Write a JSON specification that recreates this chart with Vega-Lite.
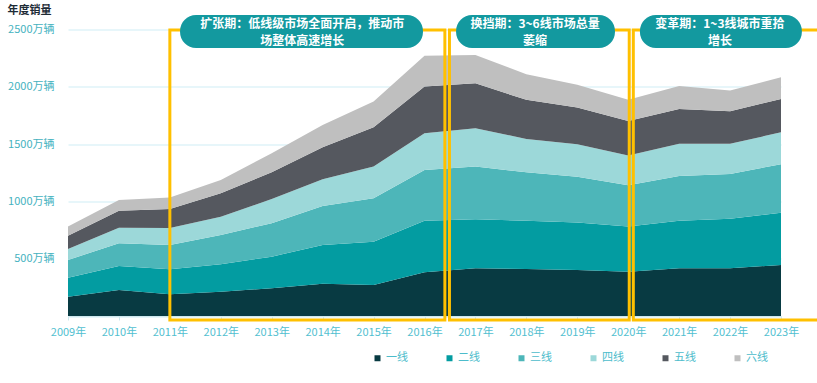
{
  "$schema": "https://vega.github.io/schema/vega-lite/v6.json",
  "width": 713,
  "height": 286.5,
  "autosize": {"type": "none"},
  "padding": {"left": 68, "top": 29.5, "right": 36, "bottom": 67},
  "background": "white",
  "config": {
    "font": "Noto Sans CJK SC",
    "view": {"stroke": null}
  },
  "datasets": {
    "sales": [
      {"year": 2009, "一线": 168, "二线": 166, "三线": 155, "四线": 96, "五线": 116, "六线": 79},
      {"year": 2010, "一线": 227, "二线": 209, "三线": 199, "四线": 136, "五线": 148, "六线": 94},
      {"year": 2011, "一线": 189, "二线": 218, "三线": 213, "四线": 148, "五线": 166, "六线": 99},
      {"year": 2012, "一线": 212, "二线": 239, "三线": 256, "四线": 160, "五线": 204, "六线": 116},
      {"year": 2013, "一线": 242, "二线": 276, "三线": 292, "四线": 210, "五线": 235, "六线": 165},
      {"year": 2014, "一线": 282, "二线": 338, "三线": 340, "四线": 233, "五线": 279, "六线": 195},
      {"year": 2015, "一线": 271, "二线": 378, "三线": 378, "四线": 277, "五线": 343, "六线": 224},
      {"year": 2016, "一线": 381, "二线": 451, "三线": 443, "四线": 320, "五线": 407, "六线": 270},
      {"year": 2017, "一线": 416, "二线": 428, "三线": 460, "四线": 334, "五线": 392, "六线": 248},
      {"year": 2018, "一线": 410, "二线": 422, "三线": 422, "四线": 291, "五线": 341, "六线": 224},
      {"year": 2019, "一线": 402, "二线": 413, "三线": 401, "四线": 283, "五线": 320, "六线": 198},
      {"year": 2020, "一线": 387, "二线": 393, "三线": 361, "四线": 259, "五线": 302, "六线": 184},
      {"year": 2021, "一线": 416, "二线": 416, "三线": 390, "四线": 280, "五线": 305, "六线": 201},
      {"year": 2022, "一线": 416, "二线": 433, "三线": 391, "四线": 262, "五线": 285, "六线": 180},
      {"year": 2023, "一线": 445, "二线": 457, "三线": 422, "四线": 279, "五线": 291, "六线": 190}
    ],
    "boxes": [
      {"x0": 2011.0, "x1": 2016.40, "y0": -35, "y1": 2496},
      {"x0": 2016.49, "x1": 2020.02, "y0": -35, "y1": 2496},
      {"x0": 2020.10, "x1": 2023.85, "y0": -35, "y1": 2496}
    ],
    "badges": [
      {"x0": 2011.20, "x1": 2015.97, "y0": 2339, "y1": 2627},
      {"x0": 2016.62, "x1": 2019.74, "y0": 2339, "y1": 2627},
      {"x0": 2020.23, "x1": 2023.41, "y0": 2339, "y1": 2627}
    ],
    "badgeText": [
      {"xc": 2013.60, "yc": 2552, "label": "扩张期：低线级市场全面开启，推动市"},
      {"xc": 2013.60, "yc": 2402, "label": "场整体高速增长"},
      {"xc": 2018.17, "yc": 2552, "label": "换挡期：3~6线市场总量"},
      {"xc": 2018.17, "yc": 2402, "label": "萎缩"},
      {"xc": 2021.80, "yc": 2552, "label": "变革期：1~3线城市重拾"},
      {"xc": 2021.80, "yc": 2402, "label": "增长"}
    ]
  },
  "layer": [
    {
      "data": {"name": "sales"},
      "transform": [
        {"fold": ["一线", "二线", "三线", "四线", "五线", "六线"], "as": ["tier", "value"]},
        {"calculate": "indexof(['一线','二线','三线','四线','五线','六线'], datum.tier)", "as": "tierOrder"}
      ],
      "mark": {"type": "area", "interpolate": "linear"},
      "encoding": {
        "x": {
          "field": "year", "type": "quantitative",
          "scale": {"domain": [2009, 2023], "nice": false, "zero": false},
          "axis": {
            "title": null,
            "values": [2009, 2010, 2011, 2012, 2013, 2014, 2015, 2016, 2017, 2018, 2019, 2020, 2021, 2022, 2023],
            "labelExpr": "datum.value + '年'",
            "labelColor": "#52c0d0",
            "labelFontSize": 11,
            "labelPadding": 6,
            "labelFlush": false,
            "labelOverlap": false,
            "grid": false,
            "domainColor": "#cfe8ee",
            "tickColor": "#cfe8ee",
            "tickSize": 4
          }
        },
        "y": {
          "field": "value", "type": "quantitative", "stack": "zero",
          "scale": {"domain": [0, 2500], "nice": false},
          "axis": {
            "title": "年度销量",
            "titleAngle": 0,
            "titleAlign": "left",
            "titleBaseline": "middle",
            "titleX": -61,
            "titleY": -19.5,
            "titleFontSize": 11,
            "titleFontWeight": "bold",
            "titleColor": "#1d2b36",
            "values": [0, 500, 1000, 1500, 2000, 2500],
            "labelExpr": "datum.value == 0 ? '' : datum.value + '万辆'",
            "labelColor": "#45b2c0",
            "labelFontSize": 11,
            "labelPadding": 14,
            "ticks": false,
            "domain": false,
            "gridColor": "#dff3f8",
            "gridWidth": 1.5
          }
        },
        "color": {
          "field": "tier", "type": "nominal",
          "sort": ["一线", "二线", "三线", "四线", "五线", "六线"],
          "scale": {
            "domain": ["一线", "二线", "三线", "四线", "五线", "六线"],
            "range": ["#083a42", "#039ca1", "#4db6b9", "#9cd8d9", "#55585f", "#bfbfbf"]
          },
          "legend": {
            "title": null,
            "orient": "none",
            "direction": "horizontal",
            "legendX": 304,
            "legendY": 323,
            "padding": 0,
            "symbolType": "square",
            "symbolSize": 36,
            "symbolStrokeWidth": 0,
            "labelFontSize": 11,
            "labelColor": "#4dbccb",
            "labelOffset": 3,
            "columnPadding": 36
          }
        },
        "order": {"field": "tierOrder", "type": "quantitative"}
      }
    },
    {
      "data": {"name": "boxes"},
      "mark": {"type": "rect", "fillOpacity": 0, "stroke": "#ffc000", "strokeWidth": 3},
      "encoding": {
        "x": {"field": "x0", "type": "quantitative"},
        "x2": {"field": "x1"},
        "y": {"field": "y0", "type": "quantitative"},
        "y2": {"field": "y1"}
      }
    },
    {
      "data": {"name": "badges"},
      "mark": {"type": "rect", "fill": "#13999f", "cornerRadius": 16},
      "encoding": {
        "x": {"field": "x0", "type": "quantitative"},
        "x2": {"field": "x1"},
        "y": {"field": "y0", "type": "quantitative"},
        "y2": {"field": "y1"}
      }
    },
    {
      "data": {"name": "badgeText"},
      "mark": {"type": "text", "color": "white", "fontSize": 12, "fontWeight": "bold", "align": "center", "baseline": "middle"},
      "encoding": {
        "x": {"field": "xc", "type": "quantitative"},
        "y": {"field": "yc", "type": "quantitative"},
        "text": {"field": "label"}
      }
    }
  ]
}
